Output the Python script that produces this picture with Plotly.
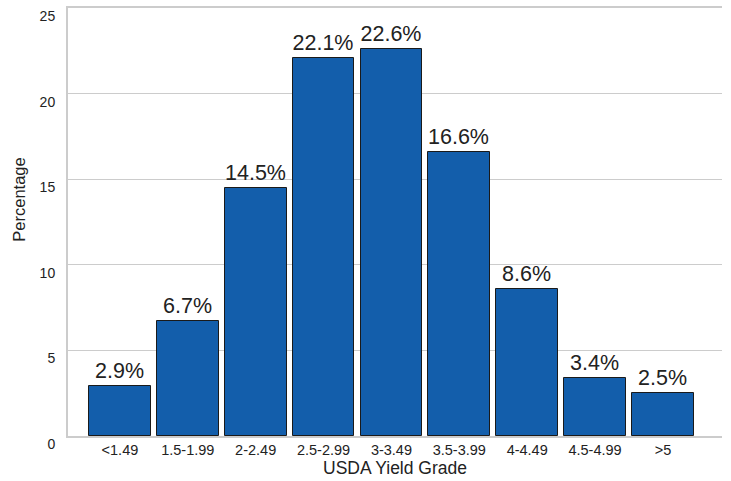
import plotly.graph_objects as go

# Distribution of carcasses by USDA yield grade
grades = ["<1.49", "1.5-1.99", "2-2.49", "2.5-2.99", "3-3.49",
          "3.5-3.99", "4-4.49", "4.5-4.99", ">5"]
percentages = [2.9, 6.7, 14.5, 22.1, 22.6, 16.6, 8.6, 3.4, 2.5]
y_ticks = [0, 5, 10, 15, 20, 25]

FONT = "Liberation Sans, Arial, Helvetica, sans-serif"
TEXT = "#222222"
GRID = "#cccccc"

fig = go.Figure(
    go.Bar(
        x=list(range(len(grades))),
        y=percentages,
        width=0.91,
        marker=dict(color="#135eab", line=dict(color="#1a1a1a", width=1)),
        text=[f"{v}%" for v in percentages],
        textposition="outside",
        cliponaxis=False,
        textfont=dict(family=FONT, size=21.5, color=TEXT),
        hoverinfo="skip",
    )
)

fig.update_layout(
    width=731,
    height=481,
    margin=dict(l=68, r=9, t=6, b=45),
    paper_bgcolor="white",
    plot_bgcolor="white",
    showlegend=False,
    font=dict(family=FONT, color=TEXT),
    bargap=0,
)

fig.update_xaxes(
    range=[-0.765, 8.87],
    tickmode="array",
    tickvals=list(range(len(grades))),
    ticktext=grades,
    tickfont=dict(size=14.5, color=TEXT),
    showgrid=False,
    showline=True,
    mirror=True,
    linecolor=GRID,
    linewidth=2,
    ticks="",
    zeroline=False,
    title=dict(text="USDA Yield Grade", font=dict(size=17.5, color=TEXT), standoff=1),
)

fig.update_yaxes(
    range=[0, 25],
    tickmode="array",
    tickvals=y_ticks,
    ticktext=[str(t) for t in y_ticks],
    tickfont=dict(size=14, color=TEXT),
    ticklabelshift=8,
    ticklabelstandoff=8,
    showgrid=True,
    gridcolor=GRID,
    gridwidth=1,
    showline=True,
    linecolor=GRID,
    linewidth=2,
    ticks="",
    zeroline=False,
)

# Vertical axis title, placed slightly above the plot's mid-height
fig.add_annotation(
    text="Percentage",
    textangle=-90,
    xref="paper", yref="paper",
    x=-0.075, y=0.552,
    xanchor="center", yanchor="middle",
    showarrow=False,
    font=dict(family=FONT, size=16.5, color=TEXT),
)

fig.write_html("out.html")
